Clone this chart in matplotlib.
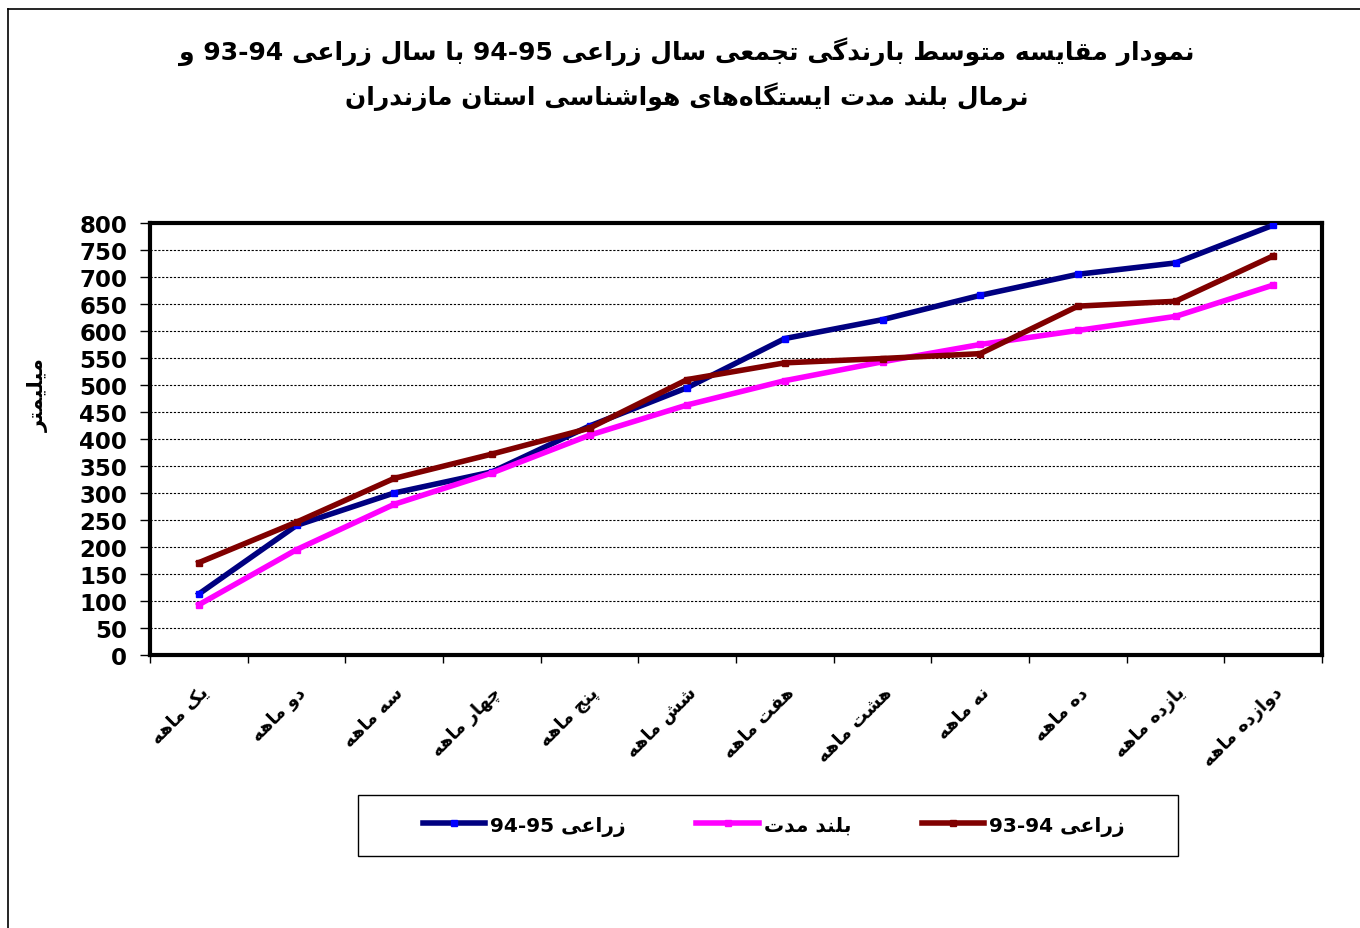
import re
import matplotlib
matplotlib.use("Agg")
import matplotlib.pyplot as plt
from matplotlib.lines import Line2D
from matplotlib.patches import Rectangle

# ---- data (cumulative rainfall, mm) ----
months = ["یک ماهه", "دو ماهه", "سه ماهه", "چهار ماهه", "پنج ماهه", "شش ماهه",
          "هفت ماهه", "هشت ماهه", "نه ماهه", "ده ماهه", "یازده ماهه", "دوازده ماهه"]
year_94_95 = [113, 240, 300, 339, 424, 495, 586, 621, 666, 705, 726, 796]
long_term = [93, 195, 279, 337, 407, 463, 508, 543, 575, 601, 627, 685]
year_93_94 = [171, 246, 327, 372, 420, 510, 541, 549, 558, 646, 655, 739]

series_names = ["زراعی 94-95", "بلند مدت", "زراعی 93-94"]
title_text = ["نمودار مقایسه متوسط بارندگی تجمعی سال زراعی 94-95 با سال زراعی 93-94 و",
              "نرمال بلند مدت ایستگاه\u200cهای هواشناسی استان مازندران"]
ylabel_text = "میلیمتر"

# ---- minimal Persian shaping (no arabic_reshaper available) ----
# forms: isolated, final, initial, medial
DUAL = {
    "ب": "ﺏﺐﺑﺒ", "ت": "ﺕﺖﺗﺘ", "ث": "ﺙﺚﺛﺜ", "ج": "ﺝﺞﺟﺠ", "ح": "ﺡﺢﺣﺤ",
    "خ": "ﺥﺦﺧﺨ", "س": "ﺱﺲﺳﺴ", "ش": "ﺵﺶﺷﺸ", "ص": "ﺹﺺﺻﺼ", "ض": "ﺽﺾﺿﻀ",
    "ط": "ﻁﻂﻃﻄ", "ظ": "ﻅﻆﻇﻈ", "ع": "ﻉﻊﻋﻌ", "غ": "ﻍﻎﻏﻐ", "ف": "ﻑﻒﻓﻔ",
    "ق": "ﻕﻖﻗﻘ", "ل": "ﻝﻞﻟﻠ", "م": "ﻡﻢﻣﻤ", "ن": "ﻥﻦﻧﻨ", "ه": "ﻩﻪﻫﻬ",
    "پ": "\ufb56\ufb57\ufb58\ufb59", "چ": "\ufb7a\ufb7b\ufb7c\ufb7d",
    "ک": "\ufb8e\ufb8f\ufb90\ufb91", "گ": "\ufb92\ufb93\ufb94\ufb95",
    "ی": "\ufbfc\ufbfd\ufef3\ufef4",
}
RIGHT = {
    "ا": "ﺍﺎ", "د": "ﺩﺪ", "ذ": "ﺫﺬ", "ر": "ﺭﺮ", "ز": "ﺯﺰ", "و": "ﻭﻮ",
    "ژ": "\ufb8a\ufb8b",
}


def shape(s):
    out = []
    n = len(s)
    for i, ch in enumerate(s):
        if ch == "\u200c":
            continue
        prev = s[i - 1] if i > 0 else ""
        nxt = s[i + 1] if i < n - 1 else ""
        join_prev = prev in DUAL
        if ch in DUAL:
            join_next = nxt in DUAL or nxt in RIGHT
            if join_prev and join_next:
                out.append(DUAL[ch][3])
            elif join_prev:
                out.append(DUAL[ch][1])
            elif join_next:
                out.append(DUAL[ch][2])
            else:
                out.append(DUAL[ch][0])
        elif ch in RIGHT:
            out.append(RIGHT[ch][1] if join_prev else RIGHT[ch][0])
        else:
            out.append(ch)
    return "".join(out)


def fa(s):
    # shape, then put into visual order keeping number runs left-to-right
    vis = shape(s)[::-1]
    return re.sub(r"[0-9][0-9\-]*", lambda m: m.group(0)[::-1], vis)


plt.rcParams["font.family"] = ["DejaVu Sans"]

fig = plt.figure(figsize=(13.6, 9.29), dpi=100)
ax = fig.add_axes([0.1103, 0.2939, 0.8618, 0.4650])

x = list(range(len(months)))
ax.plot(x, year_94_95, color="#000080", lw=4, marker="s", ms=4,
        mfc="#0000FF", mec="#0000FF", label=fa(series_names[0]), zorder=3)
ax.plot(x, long_term, color="#FF00FF", lw=4, marker="s", ms=4,
        mfc="#FF00FF", mec="#FF00FF", label=fa(series_names[1]), zorder=3)
ax.plot(x, year_93_94, color="#800000", lw=4, marker="s", ms=4,
        mfc="#800000", mec="#800000", label=fa(series_names[2]), zorder=3)

ax.set_xlim(-0.5, len(months) - 0.5)
ax.set_ylim(0, 800)
ax.set_yticks(range(0, 801, 50))
ax.yaxis.grid(True, color="black", linestyle=(0, (2, 1.5)), lw=0.8)
ax.set_axisbelow(True)

ax.set_xticks([i - 0.5 for i in range(len(months) + 1)])
ax.set_xticklabels([])
ax.set_xticks(x, minor=True)
ax.set_xticklabels([fa(m) for m in months], minor=True, rotation=45,
                   ha="right", va="top", rotation_mode="anchor",
                   fontsize=13, fontweight="bold")
ax.tick_params(axis="x", which="minor", length=0, pad=20)
ax.tick_params(axis="x", which="major", length=6, width=1, direction="out")
ax.tick_params(axis="y", length=7, width=1, direction="out", pad=9.5)
for lab in ax.get_yticklabels():
    lab.set_fontweight("bold")
    lab.set_fontsize(16.5)

for sp in ax.spines.values():
    sp.set_linewidth(3)
    sp.set_color("black")

fig.text(0.028, 0.575, fa(ylabel_text), rotation=90, ha="center", va="center",
         fontsize=15, fontweight="bold")

fig.text(0.505, 0.944, fa(title_text[0]), ha="center", va="center",
         fontsize=18, fontweight="bold")
fig.text(0.505, 0.896, fa(title_text[1]), ha="center", va="center",
         fontsize=18, fontweight="bold")

# legend box drawn separately, entries inside without own frame
fig.add_artist(Rectangle((358 / 1360, 1 - 857 / 929), 820 / 1360, 61 / 929,
                         transform=fig.transFigure, fill=False,
                         edgecolor="black", lw=1))
leg = fig.legend(loc="center", bbox_to_anchor=(0.569, 0.1103), ncol=3,
                 frameon=False, handlelength=3.1, handletextpad=0.25,
                 columnspacing=3.5, prop={"weight": "bold", "size": 14.5})

# page border (top and left)
fig.add_artist(Line2D([8 / 1360, 1], [1 - 10 / 929, 1 - 10 / 929],
                      transform=fig.transFigure, color="black", lw=1.2))
fig.add_artist(Line2D([8 / 1360, 8 / 1360], [0, 1 - 10 / 929],
                      transform=fig.transFigure, color="black", lw=1.2))

fig.savefig("out.png", dpi=100)
